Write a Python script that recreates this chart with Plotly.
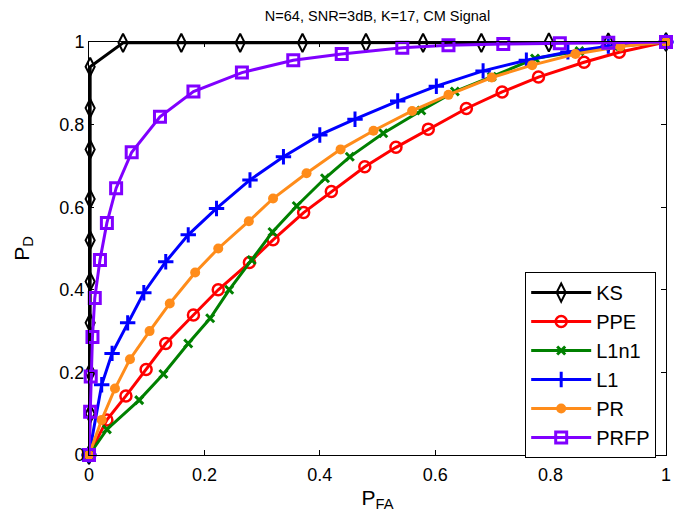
import plotly.graph_objects as go

# ROC points (P_FA, P_D)
ks_x = [0, 0.002, 0.002, 0.002, 0.002, 0.002, 0.002, 0.002, 0.002, 0.002,
        0.059, 0.16, 0.262, 0.37, 0.48, 0.579, 0.68, 0.797, 0.9, 1.0]
ks_y = [0, 0.1, 0.2, 0.32, 0.42, 0.52, 0.62, 0.74, 0.84, 0.94,
        0.998, 0.998, 0.998, 0.998, 0.998, 0.998, 0.998, 0.999, 0.999, 1.0]

ppe_x = [0, 0.031, 0.064, 0.099, 0.133, 0.181, 0.224, 0.278, 0.319, 0.372,
         0.42, 0.478, 0.532, 0.588, 0.654, 0.716, 0.779, 0.858, 0.919, 1.0]
ppe_y = [0, 0.085, 0.143, 0.207, 0.27, 0.339, 0.4, 0.466, 0.521, 0.587,
         0.638, 0.698, 0.745, 0.789, 0.839, 0.879, 0.915, 0.951, 0.975, 1.0]

l1n1_x = [0, 0.031, 0.087, 0.129, 0.172, 0.21, 0.243, 0.282, 0.318, 0.36,
          0.409, 0.452, 0.51, 0.576, 0.634, 0.698, 0.773, 0.85, 0.92, 1.0]
l1n1_y = [0, 0.062, 0.133, 0.196, 0.27, 0.331, 0.4, 0.472, 0.54, 0.603,
          0.67, 0.722, 0.779, 0.834, 0.88, 0.916, 0.96, 0.978, 0.99, 1.0]

l1_x = [0, 0.022, 0.04, 0.067, 0.095, 0.133, 0.172, 0.221, 0.279, 0.337,
        0.4, 0.461, 0.535, 0.602, 0.683, 0.758, 0.83, 0.9, 1.0]
l1_y = [0, 0.17, 0.246, 0.32, 0.393, 0.468, 0.533, 0.597, 0.666, 0.722,
        0.775, 0.813, 0.857, 0.893, 0.93, 0.956, 0.976, 0.99, 1.0]

pr_x = [0, 0.022, 0.045, 0.071, 0.105, 0.14, 0.184, 0.224, 0.277, 0.319,
        0.377, 0.436, 0.493, 0.56, 0.623, 0.698, 0.768, 0.843, 0.921, 1.0]
pr_y = [0, 0.085, 0.161, 0.232, 0.3, 0.367, 0.442, 0.5, 0.566, 0.621,
        0.682, 0.74, 0.785, 0.833, 0.872, 0.914, 0.944, 0.971, 0.989, 1.0]

prfp_x = [0, 0.002, 0.003, 0.006, 0.01, 0.019, 0.031, 0.047, 0.074, 0.123,
          0.181, 0.265, 0.354, 0.438, 0.543, 0.623, 0.718, 0.816, 0.9, 1.0]
prfp_y = [0, 0.105, 0.19, 0.286, 0.38, 0.472, 0.562, 0.646, 0.733, 0.819,
          0.88, 0.926, 0.956, 0.971, 0.986, 0.992, 0.995, 0.997, 0.998, 1.0]

tick_vals = [0, 0.2, 0.4, 0.6, 0.8, 1]
tick_text = ['0', '0.2', '0.4', '0.6', '0.8', '1']

series = [
    ('KS', ks_x, ks_y, 'black', 'diamond-tall-open', 13, 2),
    ('PPE', ppe_x, ppe_y, '#ff0000', 'circle-open', 11, 2.5),
    ('L1n1', l1n1_x, l1n1_y, '#008000', 'x-thin-open', 8, 3),
    ('L1', l1_x, l1_y, '#0000ff', 'cross-thin-open', 11, 3),
    ('PR', pr_x, pr_y, '#ff8c1a', 'circle', 10, 0),
    ('PRFP', prfp_x, prfp_y, '#8000ff', 'square-open', 11, 3),
]

fig = go.Figure()
for name, xs, ys, color, symbol, size, mlw in series:
    fig.add_trace(go.Scatter(
        x=xs, y=ys, name=name, mode='lines+markers',
        line=dict(color=color, width=3),
        marker=dict(symbol=symbol, size=size, color=color,
                    line=dict(color=color, width=mlw)),
        cliponaxis=False,
    ))

axis_style = dict(
    range=[0, 1], tickvals=tick_vals, ticktext=tick_text,
    showline=True, linecolor='black', linewidth=1, mirror='ticks',
    ticks='inside', ticklen=5, tickcolor='black',
    showgrid=False, zeroline=False, automargin=False,
    tickfont=dict(size=18, color='black'),
)

# page body keeps its 8px margin, so the figure is a bit smaller than the window
fig.update_layout(
    width=681, height=515,
    margin=dict(l=81, r=23, t=34, b=68),
    paper_bgcolor='white', plot_bgcolor='white',
    font=dict(family='Liberation Sans, Arial, sans-serif', color='black'),
    title=dict(text='N=64, SNR=3dB, K=17, CM Signal', x=0.5, xref='paper',
               y=1, yref='container', yanchor='top', pad=dict(t=3, b=0),
               font=dict(size=14.5)),
    xaxis=dict(axis_style, ticklabelstandoff=3,
               title=dict(text='P<sub>FA</sub>', font=dict(size=21), standoff=6)),
    yaxis=dict(axis_style, title=dict(text='P<sub>D</sub>', font=dict(size=21), standoff=24)),
    legend=dict(x=0.983, y=0.443, xanchor='right', yanchor='top',
                bgcolor='white', bordercolor='black', borderwidth=1,
                font=dict(size=20), itemwidth=60, tracegroupgap=0),
)

fig.write_html("out.html")
